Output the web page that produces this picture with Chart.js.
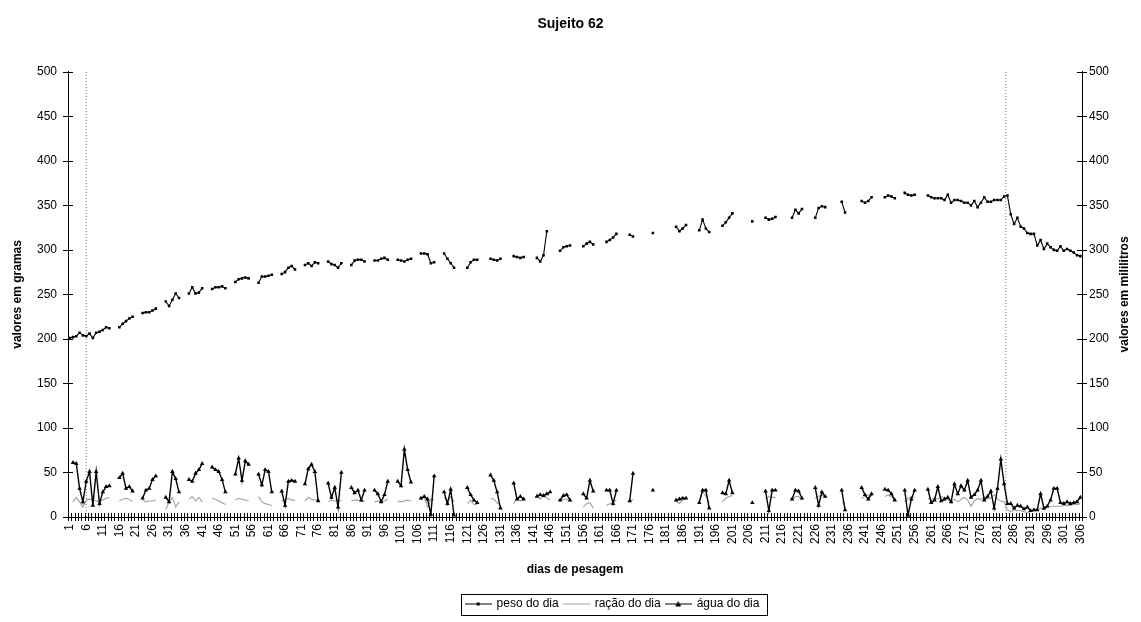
<!DOCTYPE html>
<html>
<head>
<meta charset="utf-8">
<script src="https://cdn.jsdelivr.net/npm/chart.js@4.4.1/dist/chart.umd.min.js"></script>
<style>
  html, body { margin: 0; padding: 0; background: #fff; }
  #wrap { width: 1141px; height: 622px; }
</style>
</head>
<body>
<div id="wrap"><canvas id="chart"></canvas></div>
<script>
const _ = null;

// categories: day numbers 1..306
var days = [];
for (var d = 1; d <= 306; d++) days.push(d);

var tickDays = [1,6,11,16,21,26,31,36,41,46,51,56,61,66,71,76,81,86,91,96,
  101,106,111,116,121,126,131,136,141,146,151,156,161,166,171,176,181,186,191,196,
  201,206,211,216,221,226,231,236,241,246,251,256,261,266,271,276,281,286,291,296,301,306];

// vertical dotted lines (day position)
var phaseMarks = [6, 283.5];

// peso do dia (g)
var peso = [
  201,202,203,207,204,203,206,201,207,208,
  210,213,212,_,_,213,217,220,223,225,
  _,_,229,230,230,232,234,_,_,242,
  237,244,251,246,_,_,251,258,251,252,
  257,_,_,256,258,258,259,257,_,_,
  264,267,268,269,268,_,_,263,270,270,
  271,272,_,_,273,275,280,282,278,_,
  _,283,285,282,286,285,_,_,287,284,
  283,280,285,_,_,283,288,289,289,287,
  _,_,288,288,290,291,289,_,_,289,
  288,287,289,290,_,_,296,296,295,285,
  286,_,_,296,290,285,280,_,_,_,
  280,286,289,289,_,_,_,290,289,288,
  290,_,_,_,293,292,291,292,_,_,
  _,291,287,294,321,_,_,_,299,303,
  304,305,_,_,_,304,307,309,306,_,
  _,_,309,311,314,318,_,_,_,317,
  315,_,_,_,_,_,319,_,_,_,
  _,_,_,326,321,324,328,_,_,_,
  322,334,324,320,_,_,_,327,331,336,
  341,_,_,_,_,_,332,_,_,_,
  336,334,335,337,_,_,_,_,336,345,
  341,346,_,_,_,336,347,349,348,_,
  _,_,_,354,342,_,_,_,_,355,
  353,355,359,_,_,_,359,361,360,358,
  _,_,364,362,361,362,_,_,_,361,
  359,358,358,358,356,362,353,356,356,355,
  353,353,350,355,348,353,359,354,354,356,
  356,356,360,361,340,329,336,326,324,319,
  318,318,305,311,301,307,303,300,299,304,
  299,301,299,297,294,293
];

// ração do dia (g)
var racao = [
  _,17,22,17,11,19,20,19,18,17,
  19,21,22,_,_,18,20,21,20,17,
  _,_,19,17,18,18,19,_,_,8,
  17,22,11,17,_,_,20,23,18,22,
  17,_,_,21,20,18,16,14,_,_,
  19,21,20,19,18,_,_,23,17,15,
  14,13,_,_,18,20,21,19,19,_,
  _,18,22,20,19,19,_,_,17,19,
  18,19,18,_,_,18,19,19,18,17,
  _,_,17,18,17,18,20,_,_,18,
  17,18,19,18,_,_,19,23,11,20,
  19,_,_,22,17,23,17,_,_,_,
  15,19,14,14,_,_,_,21,20,16,
  13,_,_,_,15,22,18,20,_,_,
  _,27,20,24,21,19,_,_,18,20,
  20,18,_,_,_,11,15,16,10,_,
  _,_,13,15,17,19,_,_,_,17,
  20,_,_,_,_,_,_,_,_,_,
  _,_,_,18,15,19,20,_,_,_,
  19,29,23,16,_,_,_,17,21,23,
  24,_,_,_,_,_,_,_,_,_,
  20,23,22,22,_,_,_,_,19,23,
  23,19,_,_,_,21,23,25,22,_,
  _,_,_,17,15,_,_,_,_,21,
  23,25,24,_,_,_,23,25,22,20,
  _,_,17,21,23,22,_,_,_,21,
  19,22,20,23,21,20,17,20,17,20,
  22,19,12,18,21,19,23,20,21,25,
  20,18,17,8,6,8,7,7,6,5,
  6,7,8,10,8,11,12,12,12,12,
  13,13,13,14,14,15
];

// água do dia (ml)
var agua = [
  _,61,60,32,17,40,51,13,51,15,
  28,34,35,_,_,44,49,32,34,29,
  _,_,21,30,32,42,46,_,_,22,
  17,51,43,28,_,_,42,40,49,53,
  60,_,_,56,53,51,42,28,_,_,
  48,66,41,63,59,_,_,48,36,53,
  51,28,_,_,29,13,40,41,40,_,
  _,37,54,59,51,18,_,_,38,22,
  33,11,50,_,_,33,27,30,19,30,
  _,_,30,26,17,25,40,_,_,40,
  35,76,53,39,_,_,21,23,20,3,
  46,_,_,28,15,31,2,_,_,_,
  33,25,19,16,_,_,_,47,41,28,
  10,_,_,_,38,20,23,20,_,_,
  _,23,25,24,26,28,_,_,19,24,
  25,19,_,_,_,26,21,41,29,_,
  _,_,30,30,15,30,_,_,_,18,
  49,_,_,_,_,_,30,_,_,_,
  _,_,_,19,20,21,21,_,_,_,
  16,30,30,10,_,_,_,27,26,41,
  27,_,_,_,_,_,16,_,_,_,
  29,7,30,30,_,_,_,_,20,30,
  29,21,_,_,_,33,13,28,23,_,
  _,_,_,30,8,_,_,_,_,33,
  25,20,26,_,_,_,31,30,26,19,
  _,_,30,2,20,30,_,_,_,31,
  16,19,34,18,20,22,17,37,26,35,
  30,41,22,25,30,41,19,23,29,10,
  32,65,37,15,15,10,13,12,9,11,
  7,8,8,26,10,12,19,32,32,16,
  15,17,15,16,17,22
];

Chart.defaults.font.family = "'Liberation Sans', Arial, sans-serif";
Chart.defaults.font.size = 12;
Chart.defaults.color = '#000';

// little legend symbols: line with marker
function legendIcon(color, width, marker) {
  var c = document.createElement('canvas');
  c.width = 27; c.height = 9;
  var g = c.getContext('2d');
  g.strokeStyle = color; g.lineWidth = width;
  g.beginPath(); g.moveTo(0, 4.5); g.lineTo(27, 4.5); g.stroke();
  g.fillStyle = color;
  if (marker == 'rect') g.fillRect(12, 3, 3, 3);
  if (marker == 'triangle') {
    g.beginPath(); g.moveTo(13.5, 1.5); g.lineTo(16.5, 7); g.lineTo(10.5, 7); g.closePath(); g.fill();
  }
  return c;
}
var icons = [legendIcon('#000', 1, 'rect'), legendIcon('#a0a0a0', 1, ''), legendIcon('#000', 1, 'triangle')];

var extras = {
  id: 'extras',
  afterLayout: function(chart) {
    // legend sits right of centre in the original
    chart.legend.left += 42;
    chart.legend.right += 42;
  },
  afterDraw: function(chart) {
    var ctx = chart.ctx, a = chart.chartArea;
    var x = chart.scales.x, y = chart.scales.y;
    ctx.save();
    ctx.strokeStyle = '#000';
    ctx.lineWidth = 1;
    ctx.beginPath();
    for (var k = 0; k <= 306; k++) {
      var px = Math.round(x.getPixelForValue(k + 0.5)) + 0.5;
      ctx.moveTo(px, a.bottom - 4); ctx.lineTo(px, a.bottom + 4);
    }
    y.ticks.forEach(function(t) {
      var py = Math.round(y.getPixelForValue(t.value)) + 0.5;
      ctx.moveTo(a.left - 5, py); ctx.lineTo(a.left + 5, py);
      ctx.moveTo(a.right - 5, py); ctx.lineTo(a.right + 5, py);
    });
    ctx.stroke();

    // legend frame
    var hb = chart.legend.legendHitBoxes;
    if (hb && hb.length) {
      var l = hb[0].left - 5, r = hb[hb.length - 1].left + hb[hb.length - 1].width + 7;
      var cy = hb[0].top + hb[0].height / 2;
      ctx.strokeRect(Math.round(l) + 0.5, Math.round(cy - 10.5) + 0.5, Math.round(r - l), 21);
    }

    // right axis title
    ctx.fillStyle = '#000';
    ctx.font = "bold 12px 'Liberation Sans', Arial, sans-serif";
    ctx.textAlign = 'center';
    ctx.textBaseline = 'middle';
    ctx.translate(1125, (a.top + a.bottom) / 2);
    ctx.rotate(-Math.PI / 2);
    ctx.fillText('valores em mililitros', 0, 0);
    ctx.restore();
  }
};

function markLine(v) {
  return {
    label: 'mark', data: [{x: v, y: 0}, {x: v, y: 500}], yAxisID: 'y',
    borderColor: '#777', borderWidth: 1, borderDash: [1, 2],
    pointRadius: 0, order: 5
  };
}

new Chart(document.getElementById('chart'), {
  type: 'line',
  data: {
    labels: days,
    datasets: [
      {
        label: 'peso do dia', data: peso, yAxisID: 'y',
        borderColor: '#000', borderWidth: 1.1,
        pointStyle: 'rect', pointRadius: 1.8, pointBackgroundColor: '#000', pointBorderWidth: 0,
        order: 0
      },
      {
        label: 'ração do dia', data: racao, yAxisID: 'y',
        borderColor: '#a0a0a0', borderWidth: 1.1, pointRadius: 0,
        order: 2
      },
      {
        label: 'água do dia', data: agua, yAxisID: 'y2',
        borderColor: '#000', borderWidth: 1.4,
        pointStyle: 'triangle', pointRadius: 2.6, pointBackgroundColor: '#000', pointBorderWidth: 0,
        order: 1
      },
      markLine(phaseMarks[0]),
      markLine(phaseMarks[1])
    ]
  },
  options: {
    responsive: true,
    maintainAspectRatio: false,
    devicePixelRatio: 1,
    animation: false,
    spanGaps: false,
    layout: { padding: { top: 0, right: 0, bottom: 2, left: 0 } },
    plugins: {
      tooltip: { enabled: false },
      title: {
        display: true, text: 'Sujeito 62', color: '#000',
        font: { size: 14, weight: 'bold' },
        padding: { top: 16, bottom: 39 }
      },
      legend: {
        position: 'bottom',
        labels: {
          usePointStyle: true,
          pointStyleWidth: 25,
          boxHeight: 9,
          padding: 5,
          color: '#000',
          font: { size: 12 },
          generateLabels: function() {
            return ['peso do dia', 'ração do dia', 'água do dia'].map(function(t, i) {
              return { text: t, pointStyle: icons[i], datasetIndex: i, fontColor: '#000',
                       fillStyle: 'transparent', strokeStyle: 'transparent', lineWidth: 0 };
            });
          }
        }
      }
    },
    scales: {
      x: {
        type: 'linear', min: 0.5, max: 306.5,
        afterBuildTicks: function(s) { s.ticks = tickDays.map(function(v) { return { value: v }; }); },
        afterFit: function(s) { s.height = 76; },
        grid: { display: false, drawTicks: true, tickLength: 4 },
        border: { display: true, color: '#000', width: 1 },
        ticks: {
          autoSkip: false, minRotation: 90, maxRotation: 90, padding: 3,
          callback: function(v) { return String(v); }
        },
        title: {
          display: true, text: 'dias de pesagem',
          font: { size: 12, weight: 'bold' }, padding: { top: 0, bottom: 16 }
        }
      },
      y: {
        position: 'left', min: 0, max: 500,
        afterFit: function(s) { s.width = 68; },
        grid: { display: false, drawTicks: true, tickLength: 5 },
        border: { display: true, color: '#000', width: 1 },
        ticks: { stepSize: 50, padding: 6 },
        title: {
          display: true, text: 'valores em gramas',
          font: { size: 12, weight: 'bold' }, padding: { top: 10, bottom: 0 }
        }
      },
      y2: {
        position: 'right', min: 0, max: 500,
        afterFit: function(s) { s.width = 59; },
        grid: { display: false, drawTicks: true, tickLength: 5 },
        border: { display: true, color: '#000', width: 1 },
        ticks: { stepSize: 50, padding: 2 }
      }
    }
  },
  plugins: [extras]
});
</script>
</body>
</html>
